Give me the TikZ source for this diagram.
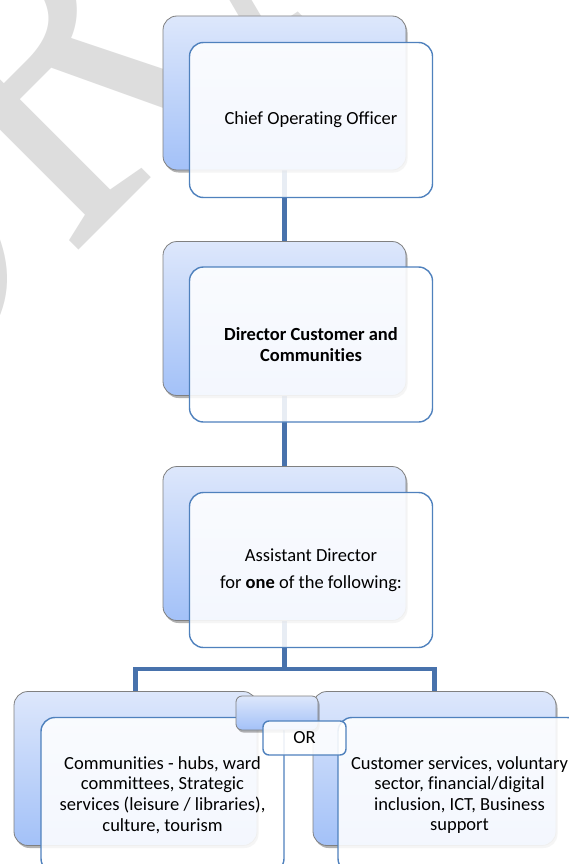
\documentclass[tikz,border=0pt]{standalone}
\usepackage{graphicx}
\usepackage{fontspec}
\setmainfont[Ligatures=NoCommon]{Carlito}
\newfontfamily\wmfont{Liberation Serif}
\usetikzlibrary{shadows}
\definecolor{backtop}{RGB}{221,231,251}
\definecolor{backbot}{RGB}{163,193,248}
\definecolor{backline}{RGB}{128,128,128}
\definecolor{frontline}{RGB}{79,129,189}
\definecolor{conn}{RGB}{72,114,172}
\definecolor{wmgray}{RGB}{221,221,221}
\newcommand{\wmletter}[1]{\scalebox{1.05}[1.43]{#1}}
\pgfdeclarelayer{wmlayer}
\pgfdeclarelayer{connlayer}
\pgfsetlayers{wmlayer,connlayer,main}
\begin{document}
\begin{tikzpicture}[x=1pt,y=-1pt,
  backbox/.style={draw=backline, line width=0.8pt, rounded corners=14pt,
    top color=backtop, bottom color=backbot, minimum width=243pt,
    minimum height=154pt, inner sep=0pt,
    drop shadow={shadow xshift=1.5pt, shadow yshift=-2.5pt, fill=black, opacity=0.3}},
  frontbox/.style={draw=frontline, line width=1.4pt, rounded corners=14pt,
    fill=white, fill opacity=0.88, text opacity=1, minimum width=243pt,
    minimum height=155pt, inner sep=2pt, align=center, text=black,
    font=\fontsize{18.5}{20.6}\selectfont},
  orback/.style={backbox, rounded corners=6pt, minimum width=82pt, minimum height=34pt},
  orfront/.style={frontbox, rounded corners=6pt, minimum width=83pt, minimum height=34pt},
  connline/.style={draw=conn, line width=4.5pt},
  wmtext/.style={text=wmgray, inner sep=0pt, rotate=45, anchor=base west,
    font=\wmfont\fontsize{360}{360}\selectfont}
]
\useasboundingbox (0,0) rectangle (569,864);

\begin{pgfonlayer}{wmlayer}
\fill[white] (0,0) rectangle (569,864);
\node[wmtext] (wmD) at (-124,453) {\wmletter{D}};
\node[wmtext] (wmR) at (69,260) {\wmletter{R}};
\node[wmtext] (wmA) at (247,82) {\wmletter{A}};
\end{pgfonlayer}

\node[backbox] (b1) at (284.5,93) {};
\node[frontbox] (f1) at (311,120) {Chief Operating Officer};
\node[backbox] (b2) at (284.5,318.5) {};
\node[frontbox] (f2) at (311,344.5) {\textbf{Director Customer and}\\\textbf{Communities}};
\node[backbox] (b3) at (284.5,543.5) {};
\node[frontbox] (f3) at (311,570) {Assistant Director\\[6.5pt]for \textbf{one} of the following:};
\node[backbox] (b4) at (135.5,768.5) {};
\node[backbox] (b5) at (434.5,768.5) {};
\node[frontbox] (f4) at (162.5,795) {Communities - hubs, ward\\committees, Strategic\\services (leisure / libraries),\\culture, tourism};
\node[frontbox] (f5) at (459.5,795) {Customer services, voluntary\\sector, financial/digital\\inclusion, ICT, Business\\support};
\node[orback] (ob) at (277,713) {};
\node[orfront] (of) at (304.5,738) {OR};

\begin{pgfonlayer}{connlayer}
\coordinate (hub) at (284.5,669);
\draw[connline] (b1.south) -- (b2.north);
\draw[connline] (b2.south) -- (b3.north);
\draw[connline] (b3.south) -- (hub);
\draw[connline] (b4.north) |- (hub) -| (b5.north);
\end{pgfonlayer}
\end{tikzpicture}
\end{document}
